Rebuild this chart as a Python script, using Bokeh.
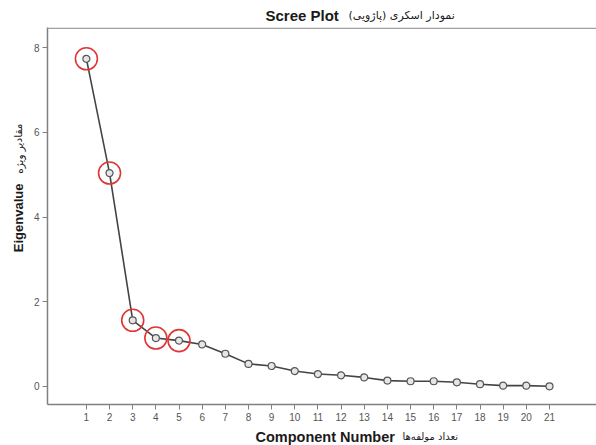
from bokeh.plotting import figure
from bokeh.models import Range1d, Span, Label, FixedTicker
from bokeh.layouts import column, row
from bokeh.embed import file_html
from bokeh.resources import INLINE

components = list(range(1, 22))
eigenvalues = [7.74, 5.04, 1.56, 1.14, 1.08, 0.99, 0.77, 0.53, 0.48, 0.36, 0.29,
               0.26, 0.21, 0.135, 0.12, 0.12, 0.095, 0.05, 0.015, 0.015, 0.0]
circled = [1, 2, 3, 4, 5]
y_ticks = [0, 2, 4, 6, 8]

title_en = "Scree Plot"
title_fa = "نمودار اسکری (پاژویی)\u200f"
ylabel_en = "Eigenvalue"
ylabel_fa = "مقادیر ویژه"
xlabel_en = "Component Number"
xlabel_fa = "تعداد مولفه‌ها"

W = 596
TITLE_H = 27
MAIN_H = 398
XLAB_H = 20
YLAB_W = 30


def text_panel(w, h):
    f = figure(width=w, height=h, output_backend="svg", toolbar_location=None,
               x_range=Range1d(0, w), y_range=Range1d(0, h),
               x_axis_location=None, y_axis_location=None,
               min_border=0, min_border_left=0, min_border_right=0,
               min_border_top=0, min_border_bottom=0)
    f.outline_line_color = None
    f.grid.visible = False
    return f


def lab(f, text, x, y, size, bold=False, angle=0, font="Liberation Sans", align="left",
        color="#1a1a1a"):
    f.add_layout(Label(x=x, y=y, text=text, text_font=font, text_font_size=size,
                       text_font_style="bold" if bold else "normal",
                       text_align=align, text_baseline="middle", angle=angle,
                       text_color=color))


# main chart
p = figure(width=W - YLAB_W, height=MAIN_H, output_backend="svg", toolbar_location=None,
           x_range=Range1d(-0.68, 23.03), y_range=Range1d(-0.43, 8.48),
           min_border_left=17, min_border_right=0, min_border_top=0, min_border_bottom=21)
p.outline_line_color = None
p.grid.visible = False

for ax in (p.xaxis[0], p.yaxis[0]):
    ax.axis_line_color = "#808080"
    ax.axis_line_width = 1.5
    ax.major_tick_line_color = "#808080"
    ax.major_tick_out = 5
    ax.major_tick_in = 0
    ax.minor_tick_line_color = None
    ax.major_label_text_font = "Liberation Sans"
    ax.major_label_text_font_size = "10px"
    ax.major_label_text_color = "#555555"
    ax.major_label_standoff = 3

p.xaxis.ticker = FixedTicker(ticks=components)
p.yaxis.ticker = FixedTicker(ticks=y_ticks)

p.add_layout(Span(location=8.46, dimension="width", line_color="#a0a0a0", line_width=1.5))

p.line(components, eigenvalues, line_color="#444444", line_width=1.6)
p.scatter(components, eigenvalues, size=7, marker="circle", line_color="#555555",
          fill_color="#e6e6e6", line_width=1.2)
cx = [c for c in components if c in circled]
cy = [eigenvalues[c - 1] for c in cx]
p.scatter(cx, cy, size=22, marker="circle", line_color="#e03535", fill_color=None,
          line_width=1.6)

# title strip
t = text_panel(W, TITLE_H)
lab(t, title_en, 265, TITLE_H - 15, "15px", bold=True)
lab(t, title_fa, 348, TITLE_H - 15, "11px", font="DejaVu Sans")

# y label strip
yl = text_panel(YLAB_W, MAIN_H)
lab(yl, ylabel_en, 18, MAIN_H - (228 - TITLE_H), "13px", bold=True, angle=1.5708, align="center")
lab(yl, ylabel_fa, 18, MAIN_H - (155 - TITLE_H), "10.5px", angle=1.5708, align="center",
    font="DejaVu Sans")

# x label strip
xl = text_panel(W, XLAB_H)
lab(xl, xlabel_en, 255, XLAB_H - (436 - TITLE_H - MAIN_H), "14.5px", bold=True)
lab(xl, xlabel_fa, 402, XLAB_H - (436 - TITLE_H - MAIN_H), "10px", font="DejaVu Sans")

layout = column(t, row(yl, p, spacing=0), xl, spacing=0)

open("out.html", "w").write(file_html(layout, INLINE))
